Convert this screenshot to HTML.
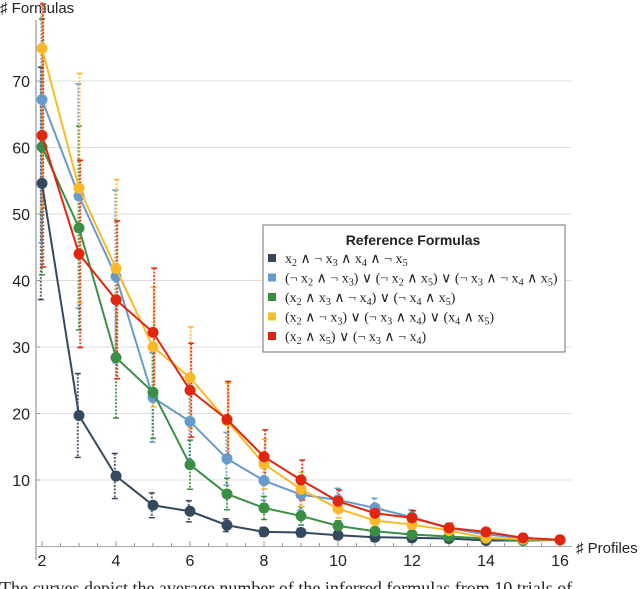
<!DOCTYPE html>
<html><head><meta charset="utf-8"><style>
body{margin:0;background:#fff;width:640px;height:589px;overflow:hidden;position:relative;font-family:"Liberation Sans","DejaVu Sans",sans-serif}
svg{position:absolute;left:0;top:0}
</style></head><body>
<svg id="s" width="640" height="589" xmlns="http://www.w3.org/2000/svg"></svg>
<script>
const X=n=>42+37*(n-2), Y=v=>546.5-6.65*v;
const series=[
["#34495e",[54.6,19.7,10.6,6.2,5.3,3.2,2.2,2.1,1.7,1.4,1.3,1.2,0.9,0.9,1]],
["#6699cc",[67.2,52.7,40.6,22.4,18.8,13.2,9.9,7.8,7,5.8,4.4,2.8,1.8,1.3,1]],
["#3a8f45",[60.1,47.9,28.4,23.2,12.3,7.9,5.8,4.6,3.1,2.3,1.8,1.5,1.2,0.9,1]],
["#fbb829",[74.9,53.9,41.8,30,25.4,18.9,12.4,8.6,5.7,3.9,3.3,2.4,1.3,1.1,1]],
["#e0260e",[61.8,44,37.1,32.2,23.5,19.1,13.5,10,6.8,5,4.3,2.8,2.2,1.3,1]]];
let h='';
for(let v=10;v<=70;v+=10){h+=`<line x1="36" x2="572" y1="${Y(v)}" y2="${Y(v)}" stroke="#ddd" stroke-width="1"/>`;
h+=`<text x="30" y="${Y(v)+6}" font-size="16" text-anchor="end" fill="#222">${v}</text>`;
h+=`<line x1="36" x2="40" y1="${Y(v)}" y2="${Y(v)}" stroke="#999"/>`;}
h+=`<line x1="36" x2="36" y1="20" y2="560" stroke="#aaa" stroke-width="1.5"/>`;
h+=`<line x1="36" x2="572" y1="546.5" y2="546.5" stroke="#aaa" stroke-width="1"/>`;
for(let n=2;n<=16;n+=0.5){const t=Number.isInteger(n)&&n%2==0;h+=`<line x1="${X(n)}" x2="${X(n)}" y1="546.5" y2="${t?541:543}" stroke="#999"/>`;}
for(let n=2;n<=16;n+=2)h+=`<text x="${X(n)}" y="566" font-size="16" text-anchor="middle" fill="#222">${n}</text>`;
h+=`<text x="0" y="13" font-size="15" fill="#222">♯ Formulas</text>`;
h+=`<text x="576" y="553" font-size="15" fill="#222">♯ Profiles</text>`;
series.forEach(([c,d],si)=>{d.forEach((v,i)=>{const n=i+2;if(n>13)return;const e=Math.max(0.6,v*(n<=4?0.32:n<=9?0.3:0.25));
const a=Y(Math.max(0,v-e)),b=Y(v+e),x=X(n)+(si-2)*0.6;
h+=`<line x1="${x}" x2="${x}" y1="${Math.max(b,2)}" y2="${a}" stroke="${c}" stroke-width="2" stroke-dasharray="2,1.5" opacity="0.85"/>`;
h+=`<line x1="${x-3}" x2="${x+3}" y1="${b}" y2="${b}" stroke="${c}" stroke-width="1.5"/><line x1="${x-3}" x2="${x+3}" y1="${a}" y2="${a}" stroke="${c}" stroke-width="1.5"/>`;});});
series.forEach(([c,d])=>{h+=`<polyline fill="none" stroke="${c}" stroke-width="2" points="${d.map((v,i)=>X(i+2)+','+Y(v)).join(' ')}"/>`;
d.forEach((v,i)=>h+=`<circle cx="${X(i+2)}" cy="${Y(v)}" r="5.5" fill="${c}"/>`);});
h+=`<rect x="263" y="225" width="302" height="127" fill="#fff" stroke="#888" stroke-width="1.2"/>`;
h+=`<text x="413" y="245" font-size="14" font-weight="bold" text-anchor="middle" fill="#222">Reference Formulas</text>`;
const L=["x_2 ∧ ¬ x_3 ∧ x_4 ∧ ¬ x_5","(¬ x_2 ∧ ¬ x_3) ∨ (¬ x_2 ∧ x_5) ∨ (¬ x_3 ∧ ¬ x_4 ∧ x_5)","(x_2 ∧ x_3 ∧ ¬ x_4) ∨ (¬ x_4 ∧ x_5)","(x_2 ∧ ¬ x_3) ∨ (¬ x_3 ∧ x_4) ∨ (x_4 ∧ x_5)","(x_2 ∧ x_5) ∨ (¬ x_3 ∧ ¬ x_4)"];
L.forEach((t,i)=>{const y=259+i*19.5;h+=`<rect x="268" y="${y-5}" width="8" height="8" fill="${series[i][0]}"/>`;
const tt=t.replace(/_(\d)/g,'<tspan font-size="10" dy="3">$1</tspan><tspan dy="-3">\u200b</tspan>');
h+=`<text x="285" y="${y+4}" font-size="14" font-family="Liberation Serif,DejaVu Serif,serif" fill="#222">${tt}</text>`;});
h+=`<text x="0" y="594" font-size="18" font-family="Liberation Serif,serif" fill="#222">The curves depict the average number of the inferred formulas from 10 trials of</text>`;
document.getElementById('s').innerHTML=h;
</script>
</body></html>
